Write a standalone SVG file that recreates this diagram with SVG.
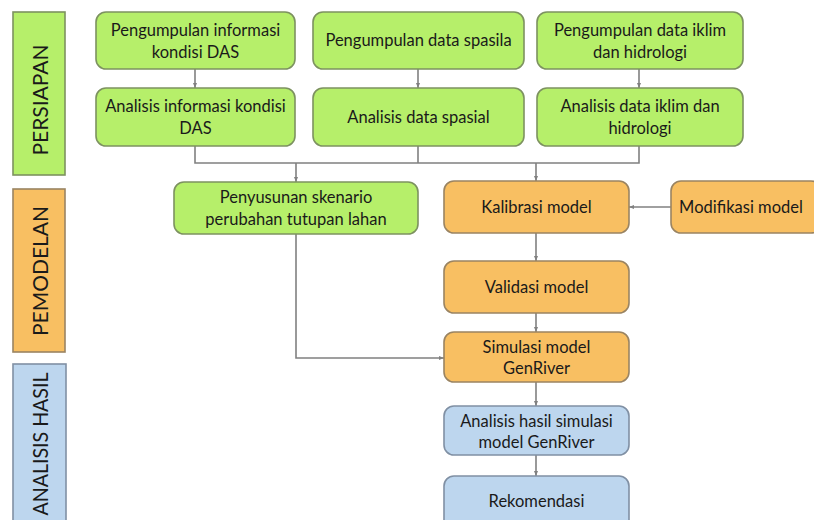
<svg xmlns="http://www.w3.org/2000/svg" width="814" height="520" viewBox="0 0 814 520">
<defs>
<style>
.g{fill:#b6ef6a;stroke:#7d9260;stroke-width:1.6}
.o{fill:#f8bf62;stroke:#9a8462;stroke-width:1.6}
.b{fill:#bdd6ee;stroke:#8090a4;stroke-width:1.6}
.pg{fill:#b6ef6a;stroke:#7d9260;stroke-width:1.6}
.po{fill:#f8bf62;stroke:#9a8462;stroke-width:1.6}
.pb{fill:#bdd6ee;stroke:#8090a4;stroke-width:1.6}
text{font-family:Lato,"Open Sans","Liberation Sans",sans-serif;font-size:16.5px;fill:#1a1a1a;text-anchor:middle}
.ph{font-size:21px}
.c{fill:none;stroke:#808080;stroke-width:1.6}
</style>
<marker id="a" viewBox="0 0 10 10" refX="10" refY="5" markerWidth="5" markerHeight="5" orient="auto" markerUnits="userSpaceOnUse">
<path d="M0,1 L10,5 L0,9 z" fill="#808080"/>
</marker>
</defs>
<rect width="814" height="520" fill="#fff"/>

<g id="phase-persiapan"><rect class="pg" x="13" y="12" width="52" height="163"/><text class="ph" transform="translate(48,100) rotate(-90)">PERSIAPAN</text></g>
<g id="phase-pemodelan"><rect class="po" x="13" y="189" width="52" height="163"/><text class="ph" transform="translate(48,271) rotate(-90)">PEMODELAN</text></g>
<g id="phase-analisis"><rect class="pb" x="13" y="364" width="53" height="170"/><text class="ph" transform="translate(48,444) rotate(-90)" textLength="143" lengthAdjust="spacingAndGlyphs">ANALISIS HASIL</text></g>

<g id="connectors">
<path class="c" d="M195,69 V88" marker-end="url(#a)"/>
<path class="c" d="M418,69 V88" marker-end="url(#a)"/>
<path class="c" d="M639,69 V88" marker-end="url(#a)"/>
<path class="c" d="M195,146 V163 H639 V146"/>
<path class="c" d="M418,146 V163"/>
<path class="c" d="M296,163 V182" marker-end="url(#a)"/>
<path class="c" d="M536,163 V181" marker-end="url(#a)"/>
<path class="c" d="M671,207 H629" marker-end="url(#a)"/>
<path class="c" d="M536,233 V261" marker-end="url(#a)"/>
<path class="c" d="M536,313 V332" marker-end="url(#a)"/>
<path class="c" d="M296,234 V358 H444" marker-end="url(#a)"/>
<path class="c" d="M536,382 V406" marker-end="url(#a)"/>
<path class="c" d="M536,455 V476" marker-end="url(#a)"/>
</g>

<g id="n1"><rect class="g" x="96" y="12" width="199" height="57" rx="10"/><text x="195.5" y="36">Pengumpulan informasi</text><text x="195.5" y="58">kondisi DAS</text></g>
<g id="n2"><rect class="g" x="313" y="12" width="211" height="57" rx="10"/><text x="418.5" y="46">Pengumpulan data spasila</text></g>
<g id="n3"><rect class="g" x="537" y="12" width="206" height="57" rx="10"/><text x="640" y="36">Pengumpulan data iklim</text><text x="640" y="58">dan hidrologi</text></g>

<g id="n4"><rect class="g" x="96" y="88" width="199" height="58" rx="10"/><text x="195.5" y="112">Analisis informasi kondisi</text><text x="195.5" y="134">DAS</text></g>
<g id="n5"><rect class="g" x="313" y="88" width="211" height="58" rx="10"/><text x="418.5" y="123">Analisis data spasial</text></g>
<g id="n6"><rect class="g" x="537" y="88" width="206" height="58" rx="10"/><text x="640" y="112">Analisis data iklim dan</text><text x="640" y="134">hidrologi</text></g>

<g id="n7"><rect class="g" x="174" y="182" width="244" height="52" rx="10"/><text x="296" y="203">Penyusunan skenario</text><text x="296" y="225">perubahan tutupan lahan</text></g>
<g id="n8"><rect class="o" x="444" y="181" width="185" height="52" rx="10"/><text x="536.5" y="213">Kalibrasi model</text></g>
<g id="n9"><rect class="o" x="671" y="181" width="150" height="52" rx="10"/><text x="741" y="213">Modifikasi model</text></g>
<g id="n10"><rect class="o" x="444" y="261" width="185" height="52" rx="10"/><text x="536.5" y="293">Validasi model</text></g>
<g id="n11"><rect class="o" x="444" y="332" width="185" height="50" rx="10"/><text x="536.5" y="353">Simulasi model</text><text x="536.5" y="374">GenRiver</text></g>
<g id="n12"><rect class="b" x="444" y="406" width="185" height="49" rx="10"/><text x="536.5" y="427">Analisis hasil simulasi</text><text x="536.5" y="448">model GenRiver</text></g>
<g id="n13"><rect class="b" x="444" y="476" width="185" height="56" rx="10"/><text x="536.5" y="507">Rekomendasi</text></g>
</svg>
